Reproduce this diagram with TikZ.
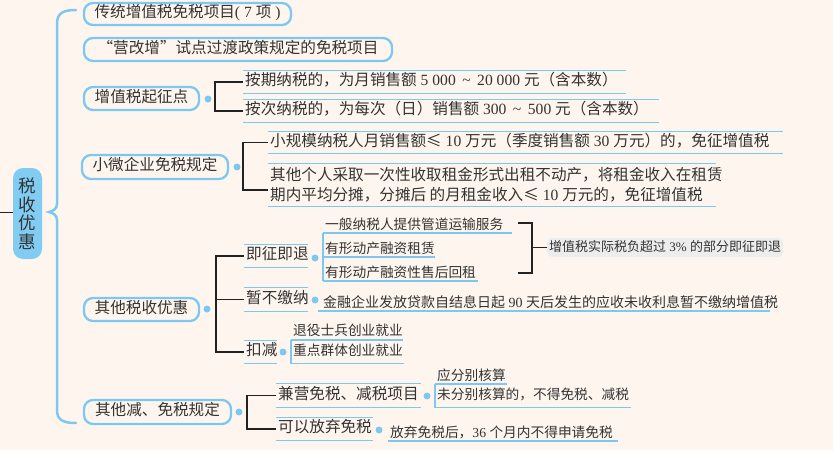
\documentclass[tikz,border=0pt]{standalone}
\usepackage{fontspec}
\setmainfont{Noto Sans CJK SC}
\newfontfamily\latf{Liberation Serif}
\usetikzlibrary{calc}
\definecolor{bgc}{HTML}{FEF6EE}
\definecolor{blu}{HTML}{7CC8F0}
\definecolor{rootc}{HTML}{80CCF3}
\definecolor{gboxc}{HTML}{ECEDEC}
\definecolor{txtc}{HTML}{333333}
\definecolor{blkc}{HTML}{222222}
\newcommand\fA{\fontsize{15.6}{18}\selectfont}
\newcommand\fB{\fontsize{13.7}{16}\selectfont}
\newcommand\fC{\fontsize{13}{15}\selectfont}
\newcommand\nm[1]{{\latf #1}}
\newcommand\bx[2]{\makebox[#1pt][l]{#2}}
\newcommand\tld{\hspace{6.5pt}\textasciitilde\hspace{6.5pt}}
\begin{document}
\begin{tikzpicture}[x=1pt,y=-1pt,
  nbase/.style={inner ysep=0pt, inner xsep=2pt, text height=0.88em, text depth=0.12em, text=txtc},
  lone/.style={nbase, font=\fA, draw=blu, line width=2.3pt, rounded corners=9pt, inner xsep=0pt},
  ltwo/.style={nbase, font=\fA, anchor=west, minimum height=22pt},
  lsm/.style={nbase, font=\fB, anchor=south west, minimum height=15pt},
  lbox/.style={nbase, font=\fB, anchor=west, minimum height=23pt},
  rootbox/.style={fill=rootc, rounded corners=10pt, minimum width=29pt, minimum height=91pt, inner sep=0pt, align=center, font=\fontsize{17.5}{18.5}\selectfont, text=txtc},
  bdot/.style={circle, fill=blu, minimum size=7pt, inner sep=0pt},
  bline/.style={draw=blu, line width=1.3pt},
  blkl/.style={draw=blkc, line width=1.1pt},
  bracestyle/.style={draw=blu, line width=2.5pt, line cap=round},
]
\fill[bgc] (0,0) rectangle (833,450);
\useasboundingbox (0,0) rectangle (833,450);

% root
\node[rootbox] (root) at (27.5,213.5) {税\\收\\优\\惠};
\coordinate (lft) at (0,212.5);
\draw[blkl] (lft) -- (root.west |- lft);

% brace
\draw[bracestyle] (76,10) .. controls (63,10) and (57,13) .. (57,24) -- (57,204)
  .. controls (57,209) and (53,211) .. (49,212) .. controls (53,213) and (57,215) .. (57,220)
  -- (57,410) .. controls (57,420) and (63,423) .. (76,423);

% level 1
\node[lone, minimum width=207pt, minimum height=22pt] (n1) at (187.5,14) {传统增值税免税项目\nm{( 7 }项\nm{ )}};
\node[lone, minimum width=308pt, minimum height=23pt] (n2) at (238,49.5) {“营改增”试点过渡政策规定的免税项目};
\node[lone, minimum width=115pt, minimum height=23pt] (n3) at (141.5,98.5) {增值税起征点};
\node[lone, minimum width=146pt, minimum height=24pt] (n4) at (155,167) {小微企业免税规定};
\node[lone, minimum width=115pt, minimum height=23pt] (n5) at (141.5,309.5) {其他税收优惠};
\node[lone, minimum width=147pt, minimum height=24pt] (n6) at (157.5,412) {其他减、免税规定};

\node[bdot] (p3) at (208,99) {};
\node[bdot] (p4) at (237,167) {};
\node[bdot] (p5) at (207,309) {};
\node[bdot] (p6) at (239,412) {};

% level 2
\node[ltwo] (a1) at (243,82) {\bx{379}{按期纳税的，为月销售额\nm{ 5 000\tld 20 000 }元（含本数）}};
\node[ltwo] (a2) at (243,111) {\bx{412}{按次纳税的，为每次（日）销售额\nm{ 300\tld 500 }元（含本数）}};
\node[ltwo, minimum height=21pt] (b1) at (268,142.5) {\bx{511}{小规模纳税人月销售额≤\nm{ 10 }万元（季度销售额\nm{ 30 }万元）的，免征增值税}};
\node[anchor=west, inner ysep=0pt, inner xsep=2pt, text=txtc, font=\fontsize{15.6}{20}\selectfont, align=left, minimum height=42pt] (b2) at (268,185)
  {\bx{444}{其他个人采取一次性收取租金形式出租不动产，将租金收入在租赁}\\\bx{444}{期内平均分摊，分摊后 的月租金收入≤\nm{ 10 }万元的，免征增值税}};

\node[ltwo] (c1) at (244,256) {\bx{60}{即征即退}};
\node[ltwo, minimum height=23pt] (c2) at (244,299.5) {\bx{60}{暂不缴纳}};
\node[ltwo] (c3) at (244,352) {\bx{29}{扣减}};

\node[lsm] (c1a) at (323,233) {\bx{185}{一般纳税人提供管道运输服务}};
\node[lsm] (c1b) at (323,257) {\bx{108}{有形动产融资租赁}};
\node[lsm] (c1c) at (323,281) {\bx{151}{有形动产融资性售后回租}};
\coordinate (k1) at (518,223);
\coordinate (k2) at (518,273);
\node[nbase, font=\fC, anchor=west, fill=gboxc, rounded corners=5pt, minimum height=19pt, inner xsep=2pt] (g) at (547,247.5) {增值税实际税负超过\nm{ 3\% }的部分即征即退};

\node[lsm, font=\fontsize{14}{16}\selectfont] (c2a) at (318,311) {\bx{448}{\hspace{3pt}金融企业发放贷款自结息日起\nm{ 90 }天后发生的应收未收利息暂不缴纳增值税}};

\node[lsm, minimum height=16pt] (c3a) at (291,340) {\bx{108}{退役士兵创业就业}};
\node[lbox] (c3b) at (291,351.5) {\bx{109}{重点群体创业就业}};

\node[ltwo, minimum height=23pt] (d1) at (276,395.5) {\bx{141}{兼营免税、减税项目}};
\node[ltwo] (d2) at (276,429) {\bx{93}{可以放弃免税}};
\node[lsm] (d1a) at (435,384) {\bx{68}{应分别核算}};
\node[lbox] (d1b) at (435,395.5) {\bx{192}{未分别核算的，不得免税、减税}};
\node[lsm] (d2a) at (388,441) {\bx{226}{放弃免税后，\nm{36 }个月内不得申请免税}};

\node[bdot] (q1) at (315,258) {};
\node[bdot] (q2) at (315,300) {};
\node[bdot] (q3) at (283,352) {};
\node[bdot] (q4) at (427,396) {};
\node[bdot] (q5) at (379,430) {};

% blue rules
\foreach \nn in {a1,a2,b1,b2,c1,c2,c3,d1,d2} {\draw[bline] (\nn.north west) -- (\nn.north east) (\nn.south west) -- (\nn.south east);}
\foreach \nn in {c1a,c1b,c1c,c2a,c3a,d1a,d2a} {\draw[bline] (\nn.south west) -- (\nn.south east);}
\draw[bline] (c1a.south west) -- (c1c.south west);
\draw[bline] (c3b.north west) -- (c3b.south west) -- (c3b.south east);
\draw[bline] (d1b.north west) -- (d1b.south west) -- (d1b.south east);

% black brackets
\draw[blkl] (a1.west) -- ++(-28,0) |- (a2.west);
\draw[blkl] (b1.west) -- ++(-25,0) |- ($(b2.west)+(0,5)$);
\draw[blkl] (c1.west) -- ++(-28,0) |- (c3.west);
\draw[blkl] (c2.west) -- ++(-28,0);
\draw[blkl] (d1.west) -- ++(-29,0) |- (d2.west);
\draw[blkl] (k1) -- ++(14,0) |- (k2);
\draw[blkl] (g.west) -- ++(-15,0);
\end{tikzpicture}
\end{document}
